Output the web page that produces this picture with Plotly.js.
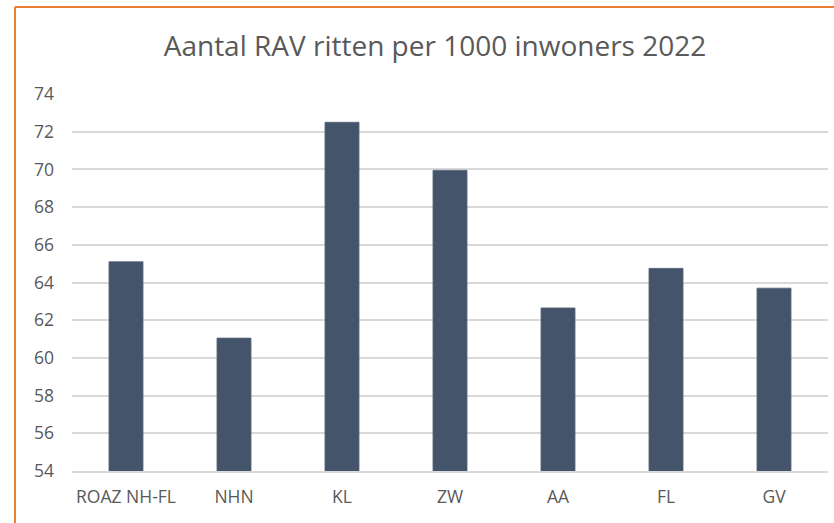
<!DOCTYPE html>
<html>
<head>
<meta charset="utf-8">
<script src="https://cdn.plot.ly/plotly-3.0.1.min.js"></script>
<style>
  html, body { margin: 0; padding: 0; background: #ffffff; }
  #chart { width: 834px; height: 523px; }
</style>
</head>
<body>
<div id="chart"></div>
<script>
const categories = ["ROAZ NH-FL", "NHN", "KL", "ZW", "AA", "FL", "GV"];
const values = [65.1, 61.05, 72.5, 69.95, 62.65, 64.75, 63.7];
const yTicks = [54, 56, 58, 60, 62, 64, 66, 68, 70, 72, 74];
const titleText = "Aantal RAV ritten per 1000 inwoners 2022";

const W = 834, H = 523;
const M = { l: 72, r: 6, t: 94, b: 51.5 };
const plotW = W - M.l - M.r, plotH = H - M.t - M.b;
const px = x => (x - M.l) / plotW;
const py = y => (H - M.b - y) / plotH;

const trace = {
  type: "bar",
  x: categories,
  y: values,
  marker: { color: "#44546A", line: { color: "#56657a", width: 0.8 } },
  hoverinfo: "x+y"
};

const layout = {
  width: W,
  height: H,
  margin: M,
  paper_bgcolor: "#ffffff",
  plot_bgcolor: "#ffffff",
  showlegend: false,
  bargap: 0.685,
  font: { family: "Open Sans, sans-serif", color: "#595959", size: 17 },
  title: {
    text: titleText,
    font: { family: "Open Sans, sans-serif", size: 28, color: "#595959" },
    x: 435 / W, xref: "container", xanchor: "center",
    y: 1 - 46 / H, yref: "container", yanchor: "middle"
  },
  xaxis: {
    type: "category",
    showgrid: false,
    showline: true,
    linecolor: "#d9d9d9",
    linewidth: 2,
    ticks: "",
    ticklabelstandoff: 9,
    tickfont: { size: 17.5, color: "#595959" },
    fixedrange: true
  },
  yaxis: {
    range: [54, 74],
    tickmode: "array",
    tickvals: yTicks,
    ticktext: yTicks.map(String),
    showgrid: true,
    gridcolor: "#d9d9d9",
    gridwidth: 2,
    zeroline: false,
    showline: false,
    ticks: "",
    ticklabelstandoff: 17,
    tickfont: { size: 17.5, color: "#595959" },
    fixedrange: true
  },
  shapes: [
    { type: "line", xref: "paper", yref: "paper",
      x0: px(15), x1: px(15), y0: py(7), y1: py(H + 5),
      line: { color: "#ED7D31", width: 2 } },
    { type: "line", xref: "paper", yref: "paper",
      x0: px(15), x1: px(W + 5), y0: py(7), y1: py(7),
      line: { color: "#ED7D31", width: 2 } }
  ]
};

Plotly.newPlot("chart", [trace], layout, { displayModeBar: false, staticPlot: true });
</script>
</body>
</html>
